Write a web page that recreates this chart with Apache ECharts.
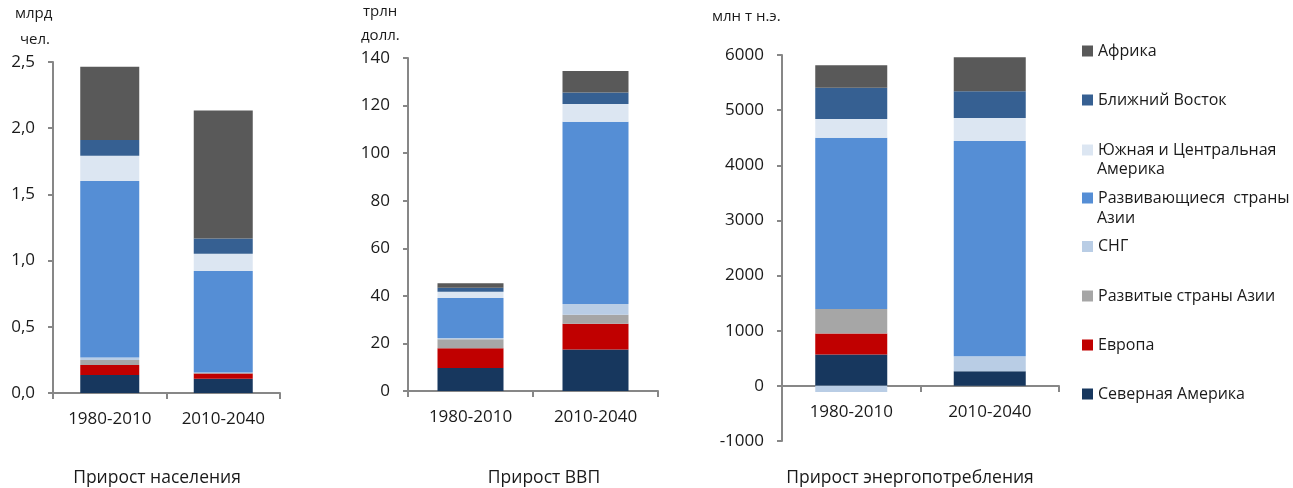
<!DOCTYPE html>
<html>
<head>
<meta charset="utf-8">
<script src="https://cdn.jsdelivr.net/npm/echarts@6/dist/echarts.min.js"></script>
<style>
  html, body { margin: 0; padding: 0; background: #fff; }
  #chart { width: 1293px; height: 488px; }
</style>
</head>
<body>
<div id="chart"></div>
<script>
// categories and regions (stack order: bottom -> top)
const categories = ['1980-2010', '2010-2040']
const regions = ['Северная Америка', 'Европа', 'Развитые страны Азии', 'СНГ',
  'Развивающиеся  страны Азии', 'Южная и Центральная Америка', 'Ближний Восток', 'Африка']

// values by region, same order as regions
const population1980 = [0.136, 0.075, 0.038, 0.02, 1.332, 0.19, 0.12, 0.554]
const population2010 = [0.108, 0.04, 0.004, 0.003, 0.766, 0.13, 0.115, 0.967]
const gdp1980 = [9.7, 8.3, 3.8, 0.5, 16.8, 2.6, 1.7, 1.9]
const gdp2010 = [17.5, 10.8, 3.8, 4.5, 76.6, 7.5, 4.8, 9.0]
const energy1980 = [570, 380, 442, -110, 3108, 339, 568, 407]
const energy2010 = [267, 0, 0, 272, 3901, 417, 485, 617]

// legend order top -> bottom
const legendOrder = ['Африка', 'Ближний Восток', 'Южная и Центральная Америка',
  'Развивающиеся  страны Азии', 'СНГ', 'Развитые страны Азии', 'Европа', 'Северная Америка']

const colors = {
  'Северная Америка': '#17375e',
  'Европа': '#c00000',
  'Развитые страны Азии': '#a6a6a6',
  'СНГ': '#b9cde5',
  'Развивающиеся  страны Азии': '#558ed5',
  'Южная и Центральная Америка': '#dce6f2',
  'Ближний Восток': '#366092',
  'Африка': '#595959'
}

const FONT = '"Open Sans", "DejaVu Sans", sans-serif'
const axisColor = '#878787'
const textColor = '#1a1a1a'

const chart = echarts.init(document.getElementById('chart'))

const grids = [
  { left: 53, top: 62, width: 227, height: 331 },
  { left: 408, top: 58, width: 250, height: 333 },
  { left: 782, top: 55, width: 277, height: 386 }
]
// the energy chart's category axis sits on zero
const xOffsets = [0, 0, -55]

const xAxes = grids.map((g, i) => ({
  type: 'category',
  gridIndex: i,
  data: categories,
  offset: xOffsets[i],
  axisLine: { onZero: false, lineStyle: { color: axisColor, width: 2 } },
  axisTick: { show: true, alignWithLabel: false, length: 6, lineStyle: { color: axisColor, width: 2 } },
  axisLabel: { color: textColor, fontSize: 17, fontFamily: FONT, margin: 18 }
}))

function yAxis(i, min, max, interval, fmt) {
  return {
    type: 'value',
    gridIndex: i,
    min: min,
    max: max,
    interval: interval,
    splitLine: { show: false },
    axisLine: { show: true, lineStyle: { color: axisColor, width: 2 } },
    axisTick: { show: true, length: 5, lineStyle: { color: axisColor, width: 2 } },
    axisLabel: { color: textColor, fontSize: 17, fontFamily: FONT, margin: 18, formatter: fmt }
  }
}

const yAxes = [
  yAxis(0, 0, 2.5, 0.5, v => v.toFixed(1).replace('.', ',')),
  yAxis(1, 0, 140, 20, v => String(v)),
  yAxis(2, -1000, 6000, 1000, v => String(v))
]

const datasets = [
  [population1980, population2010, 59],
  [gdp1980, gdp2010, 66],
  [energy1980, energy2010, 72]
]

const series = []
datasets.forEach((d, gi) => {
  regions.forEach((name, ri) => {
    series.push({
      name: name,
      type: 'bar',
      xAxisIndex: gi,
      yAxisIndex: gi,
      stack: 'total' + gi,
      barWidth: d[2],
      itemStyle: { color: colors[name] },
      emphasis: { disabled: true },
      data: [d[0][ri], d[1][ri]]
    })
  })
})

// one legend per item so that spacing matches the reference
const legendTops = [43, 92, 142, 190, 238.5, 288, 337, 386]
const wrapped = {
  'Южная и Центральная Америка': 'Южная и Центральная',
  'Развивающиеся  страны Азии': 'Развивающиеся  страны'
}
const legends = legendOrder.map((name, i) => ({
  data: [name],
  left: 1082,
  top: legendTops[i],
  padding: 0,
  itemWidth: 11,
  itemHeight: 11,
  itemGap: 0,
  icon: 'rect',
  selectedMode: false,
  formatter: n => wrapped[n] || n,
  textStyle: { color: textColor, fontSize: 16, fontFamily: FONT }
}))

const txt = (x, y, text, size) => ({
  type: 'text', left: x, top: y,
  style: { text: text, fill: textColor, font: (size || 15) + 'px ' + FONT }
})

const titleStyle = { fontSize: 17.5, fontWeight: 'normal', color: textColor, fontFamily: FONT }

chart.setOption({
  animation: false,
  textStyle: { fontFamily: FONT },
  grid: grids,
  xAxis: xAxes,
  yAxis: yAxes,
  legend: legends,
  series: series,
  title: [
    { text: 'Прирост населения', left: 152, top: 464, textAlign: 'center', textStyle: titleStyle },
    { text: 'Прирост ВВП', left: 539, top: 464, textAlign: 'center', textStyle: titleStyle },
    { text: 'Прирост энергопотребления', left: 905, top: 464, textAlign: 'center', textStyle: titleStyle }
  ],
  graphic: [
    txt(15, 6, 'млрд'),
    txt(20, 32, 'чел.'),
    txt(363, 4, 'трлн'),
    txt(361, 28, 'долл.'),
    txt(712, 9, 'млн т н.э.'),
    txt(1097, 161, 'Америка', 16),
    txt(1097, 210, 'Азии', 16)
  ]
})
</script>
</body>
</html>
